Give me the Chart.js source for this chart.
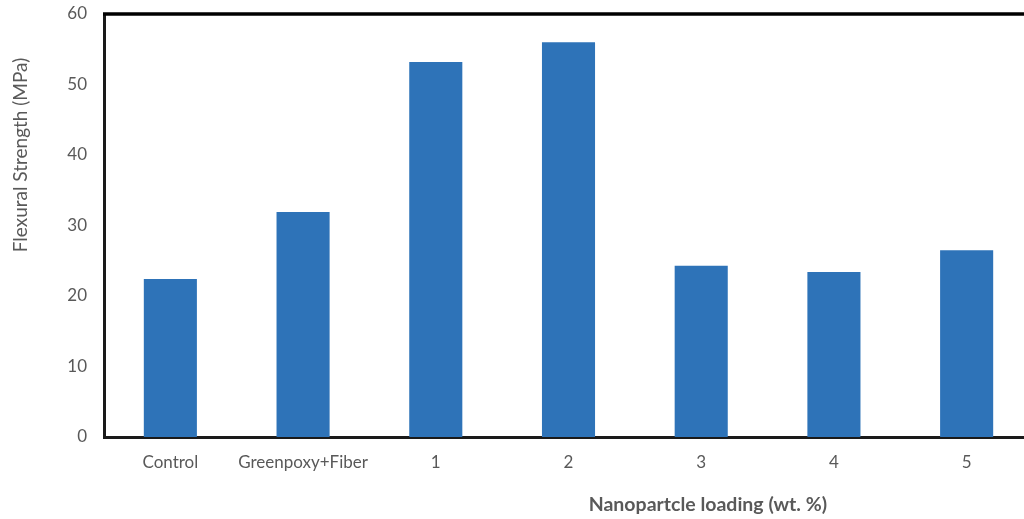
<!DOCTYPE html>
<html>
<head>
<meta charset="utf-8">
<script src="https://cdn.jsdelivr.net/npm/chart.js@4/dist/chart.umd.min.js"></script>
<style>
  html, body { margin: 0; padding: 0; background: #fff; overflow: hidden; }
  #wrap { position: relative; width: 1040px; height: 519px; }
</style>
</head>
<body>
<div id="wrap"><canvas id="myChart"></canvas></div>
<script>
const categories = ["Control", "Greenpoxy+Fiber", "1", "2", "3", "4", "5"];
const strengthValues = [22.4, 31.9, 53.2, 56.0, 24.3, 23.4, 26.5];
const yTicks = [0, 10, 20, 30, 40, 50, 60];
const xTitle = "Nanopartcle loading (wt. %)";
const yTitle = "Flexural Strength (MPa)";

const fontFamily = "Lato, 'Open Sans', sans-serif";
const textGrey = '#595959';

// axis titles sit off-centre in the original, so draw them by hand
const titlesPlugin = {
    id: 'titles',
    afterDraw(chart) {
        const ctx = chart.ctx;
        const area = chart.chartArea;
        ctx.save();
        // top frame line
        ctx.strokeStyle = '#000';
        ctx.lineWidth = 3.5;
        ctx.beginPath();
        ctx.moveTo(area.left - 1, area.top);
        ctx.lineTo(area.right, area.top);
        ctx.stroke();

        ctx.fillStyle = textGrey;
        ctx.textAlign = 'center';
        ctx.textBaseline = 'middle';
        ctx.font = "bold 19.5px " + fontFamily;
        ctx.fillText(xTitle, area.left + (area.right - area.left) * 0.65, 505);

        ctx.font = "19px " + fontFamily;
        ctx.translate(21, 155);
        ctx.rotate(-Math.PI / 2);
        ctx.fillText(yTitle, 0, 0);
        ctx.restore();
    }
};

const ctx = document.getElementById('myChart').getContext('2d');
const myChart = new Chart(ctx, {
    type: 'bar',
    data: {
        labels: categories,
        datasets: [{
            label: yTitle,
            data: strengthValues,
            backgroundColor: '#2E73B8',
            borderWidth: 0,
            categoryPercentage: 1,
            barPercentage: 0.4
        }]
    },
    options: {
        responsive: true,
        maintainAspectRatio: false,
        animation: false,
        layout: { padding: { top: 14, right: 7, left: 0, bottom: 0 } },
        plugins: {
            legend: { display: false },
            tooltip: { enabled: false }
        },
        scales: {
            x: {
                grid: { display: false, drawTicks: false },
                border: { display: true, color: '#1a1a1a', width: 3 },
                ticks: {
                    color: textGrey,
                    font: { family: fontFamily, size: 17 },
                    padding: 15,
                    maxRotation: 0,
                    autoSkip: false
                },
                afterFit(scale) { scale.height = 82; }
            },
            y: {
                min: 0,
                max: 60,
                grid: { display: false, drawTicks: false },
                border: { display: true, color: '#1a1a1a', width: 3 },
                afterBuildTicks(scale) { scale.ticks = yTicks.map(v => ({ value: v })); },
                ticks: {
                    color: textGrey,
                    font: { family: fontFamily, size: 17 },
                    padding: 17
                },
                afterFit(scale) {
                    scale.width = 104;
                    scale.paddingTop = 0;
                }
            }
        }
    },
    plugins: [titlesPlugin]
});
</script>
</body>
</html>
